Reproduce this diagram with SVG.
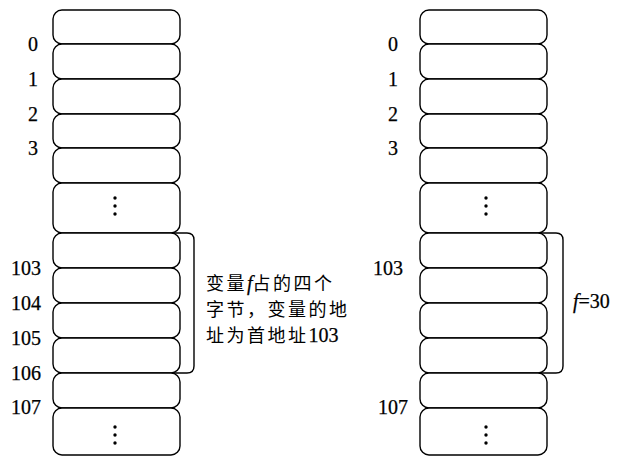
<svg xmlns="http://www.w3.org/2000/svg" width="621" height="456" viewBox="0 0 621 456">
<style>
.cell{fill:#fff;stroke:#000;stroke-width:1.4}
.br{fill:none;stroke:#000;stroke-width:1.4}
.num{font-family:'Liberation Serif',serif;font-size:20px;fill:#000;stroke:#000;stroke-width:0.25}
.cjk{font-family:'Noto Sans CJK SC','Noto Sans',sans-serif;font-size:18px;letter-spacing:2.5px;fill:#000}
.ser{font-family:'Liberation Serif',serif;font-size:20px;letter-spacing:0;stroke:#000;stroke-width:0.25}
.dot{fill:#000}
</style>
<defs>
<g id="dots"><circle class="dot" cx="0" cy="0" r="1.7"/><circle class="dot" cx="0" cy="8" r="1.7"/><circle class="dot" cx="0" cy="16" r="1.7"/></g>
</defs>
<rect width="621" height="456" fill="#fff"/>
<g id="left-memory">
<rect class="cell" x="53" y="10" width="127" height="34" rx="9"/>
<rect class="cell" x="53" y="44" width="127" height="35" rx="9"/>
<rect class="cell" x="53" y="79" width="127" height="35" rx="9"/>
<rect class="cell" x="53" y="114" width="127" height="34" rx="9"/>
<rect class="cell" x="53" y="148" width="127" height="35" rx="9"/>
<rect class="cell" x="53" y="183" width="127" height="50" rx="9"/>
<rect class="cell" x="53" y="233" width="127" height="35" rx="9"/>
<rect class="cell" x="53" y="268" width="127" height="35" rx="9"/>
<rect class="cell" x="53" y="303" width="127" height="35" rx="9"/>
<rect class="cell" x="53" y="338" width="127" height="35" rx="9"/>
<rect class="cell" x="53" y="373" width="127" height="35" rx="9"/>
<rect class="cell" x="53" y="408" width="127" height="47" rx="9"/>
<use href="#dots" x="115" y="198"/>
<use href="#dots" x="115" y="427"/>
</g>
<g id="left-labels">
<text class="num" x="33" y="51" text-anchor="middle">0</text>
<text class="num" x="33" y="86" text-anchor="middle">1</text>
<text class="num" x="33" y="121" text-anchor="middle">2</text>
<text class="num" x="33" y="155" text-anchor="middle">3</text>
<text class="num" x="11" y="275">103</text>
<text class="num" x="11" y="310">104</text>
<text class="num" x="11" y="345">105</text>
<text class="num" x="11" y="380">106</text>
<text class="num" x="11" y="414">107</text>
</g>
<g id="right-memory">
<rect class="cell" x="420" y="10" width="127" height="34" rx="9"/>
<rect class="cell" x="420" y="44" width="127" height="35" rx="9"/>
<rect class="cell" x="420" y="79" width="127" height="35" rx="9"/>
<rect class="cell" x="420" y="114" width="127" height="34" rx="9"/>
<rect class="cell" x="420" y="148" width="127" height="35" rx="9"/>
<rect class="cell" x="420" y="183" width="127" height="50" rx="9"/>
<rect class="cell" x="420" y="233" width="127" height="35" rx="9"/>
<rect class="cell" x="420" y="268" width="127" height="35" rx="9"/>
<rect class="cell" x="420" y="303" width="127" height="35" rx="9"/>
<rect class="cell" x="420" y="338" width="127" height="35" rx="9"/>
<rect class="cell" x="420" y="373" width="127" height="35" rx="9"/>
<rect class="cell" x="420" y="408" width="127" height="47" rx="9"/>
<use href="#dots" x="486" y="198"/>
<use href="#dots" x="486" y="427"/>
</g>
<g id="right-labels">
<text class="num" x="393" y="51" text-anchor="middle">0</text>
<text class="num" x="393" y="86" text-anchor="middle">1</text>
<text class="num" x="393" y="121" text-anchor="middle">2</text>
<text class="num" x="393" y="155" text-anchor="middle">3</text>
<text class="num" x="373" y="275">103</text>
<text class="num" x="378" y="414">107</text>
</g>
<g id="connectors">
<path class="br" d="M172,233 H187 Q194,233 194,240 V366 Q194,373 187,373 H172"/>
<path class="br" d="M540,233 H556 Q563,233 563,240 V366 Q563,373 556,373 H540"/>
</g>
<g id="annotation-left">
<text class="cjk" x="206" y="290">变量<tspan class="ser" font-style="italic">f</tspan>占的四个</text>
<text class="cjk" x="206" y="316">字节，变量的地</text>
<text class="cjk" x="206" y="342">址为首地址<tspan class="ser">103</tspan></text>
</g>
<g id="annotation-right">
<text class="num" x="573" y="308"><tspan font-style="italic">f</tspan>=30</text>
</g>
</svg>
